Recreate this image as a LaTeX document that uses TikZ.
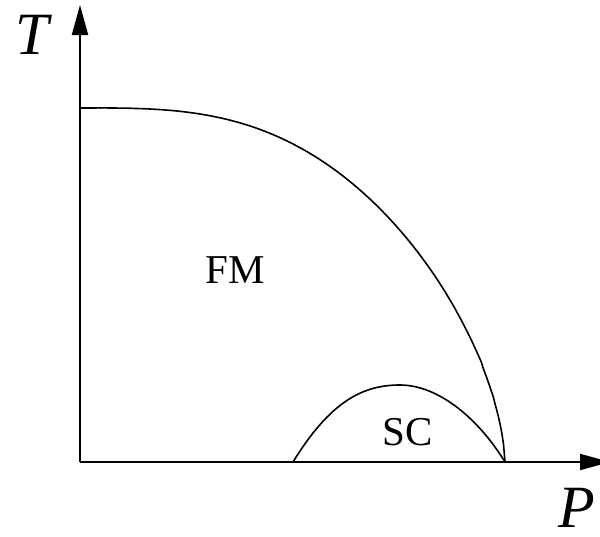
\documentclass[tikz,border=0pt]{standalone}
\usepackage{fontspec}
\setmainfont{Liberation Serif}
\usetikzlibrary{arrows.meta}
\begin{document}
\begin{tikzpicture}[x=1pt,y=-1pt,
  axis/.style={line width=2pt,-{Triangle[length=30pt,width=16pt]}},
  boundary/.style={line width=1.6pt,line join=round},
  lbl/.style={inner sep=0pt,font=\fontsize{41}{41}\selectfont},
  axlbl/.style={inner sep=0pt,font=\fontsize{60}{60}\selectfont\itshape}]
\useasboundingbox (0,0) rectangle (600,536);
\clip (0,0) rectangle (600,536);
\coordinate (O) at (80,462);
\coordinate (Ytip) at (80,5);
\coordinate (Xtip) at (610,462);
\coordinate (Tc) at (80,108);
\coordinate (Pc) at (505,462);
\coordinate (Sl) at (293,462);
\coordinate (Sp) at (400,385);
\draw[axis] (O) -- (Ytip);
\draw[axis] (O) -- (Xtip);
\draw[boundary] (Tc) -- plot[domain=0.001:0.99995,samples=250,variable=\u]
  ({80+425*\u},{462-354*((1-\u^2.4)^0.625+0.022*(sin(180*\u))^2)}) -- (Pc);
\draw[boundary] (Sl) .. controls (330,402) and (362,385) .. (Sp)
  .. controls (438,385) and (478,418) .. (Pc);
\node[axlbl] (T) at (32,35) {T};
\node[axlbl] (P) at (577,508) {P};
\node[lbl] (FM) at (235,270) {FM};
\node[lbl] (SC) at (408,432) {SC};
\end{tikzpicture}
\end{document}
